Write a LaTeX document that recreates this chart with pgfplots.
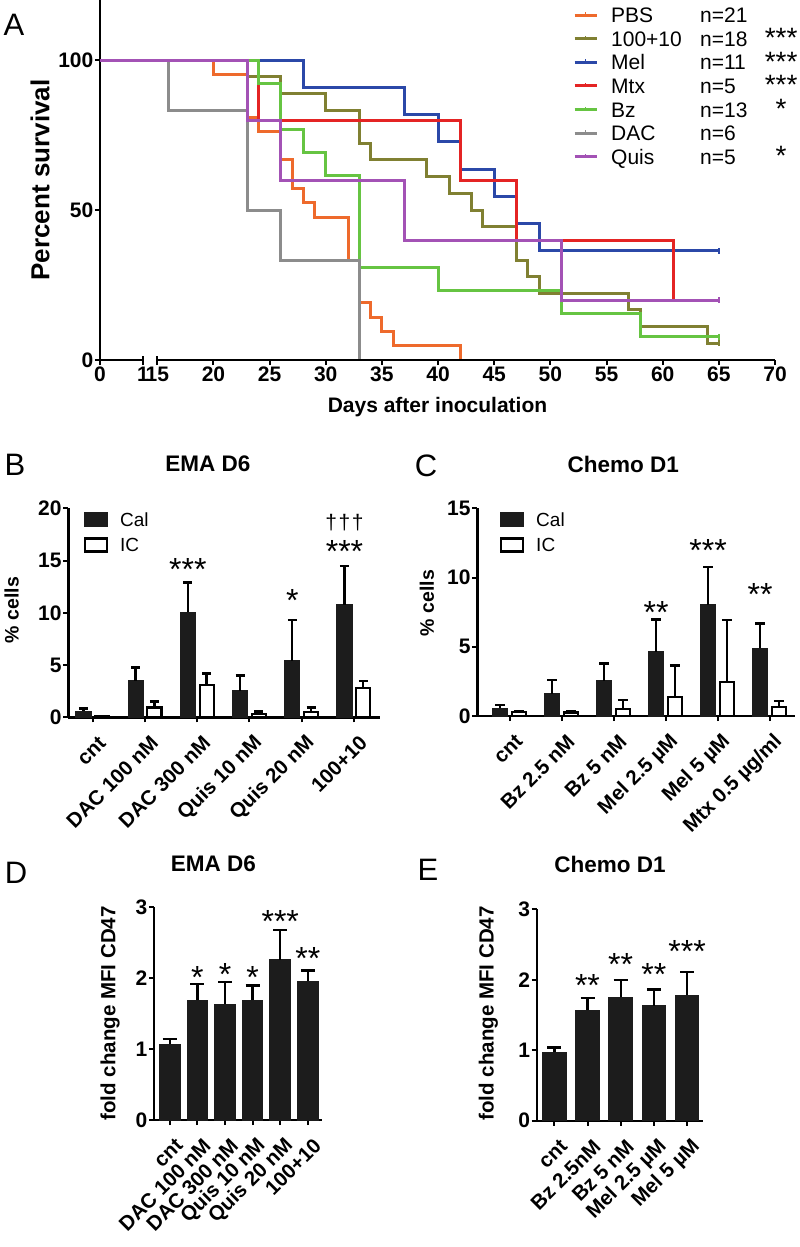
\documentclass[border=0pt]{standalone}
\usepackage{pgfplots}
\pgfplotsset{compat=1.18}
\usepackage{pgfplotstable}
\usepackage{fontspec}
\setmainfont{Liberation Sans}
\newcommand{\fsz}[1]{\fontsize{#1}{#1}\selectfont}
\definecolor{cPBS}{HTML}{EE6A2C}
\definecolor{cComb}{HTML}{808032}
\definecolor{cMel}{HTML}{2B48A8}
\definecolor{cMtx}{HTML}{E42424}
\definecolor{cBz}{HTML}{66C442}
\definecolor{cDAC}{HTML}{8C8C8C}
\definecolor{cQuis}{HTML}{A352B5}
\definecolor{barblk}{HTML}{1C1C1C}

% survival data (x = day; day 0 drawn at 9.9 because of the axis break)
\pgfplotstableread{
x y
9.9 100
20 95.24
23 80.95
24 76.19
26 66.67
27 57.14
28 52.38
29 47.62
32 33.33
33 19.05
34 14.29
35 9.52
36 4.76
42 0
}\tabPBS
\pgfplotstableread{
x y
9.9 100
23 94.44
26 88.89
30 83.33
33 72.22
34 66.67
39 61.11
41 55.56
43 50
44 44.44
47 33.33
48 27.78
49 22.22
57 16.67
58 11.11
64 5.56
65 5.56
}\tabComb
\pgfplotstableread{
x y
9.9 100
28 90.91
37 81.82
40 72.73
42 63.64
45 54.55
47 45.45
49 36.36
65 36.36
}\tabMel
\pgfplotstableread{
x y
9.9 100
24 80
42 60
47 40
61 20
}\tabMtx
\pgfplotstableread{
x y
9.9 100
24 92.31
26 76.92
28 69.23
30 61.54
33 30.77
40 23.08
51 15.38
58 7.69
65 7.69
}\tabBz
\pgfplotstableread{
x y
9.9 100
16 83.33
23 50
26 33.33
33 0
}\tabDAC
\pgfplotstableread{
x y
9.9 100
23 80
26 60
37 40
51 20
65 20
}\tabQuis

\pgfplotstableread{
x cal calerr ic icerr
0 0.60 0.26 0.10 0.0
1 3.48 1.27 0.93 0.57
2 10.05 2.85 3.10 1.10
3 2.55 1.45 0.30 0.25
4 5.42 3.88 0.48 0.45
5 10.75 3.75 2.84 0.66
}\tabB
\pgfplotstableread{
x cal calerr ic icerr
0 0.55 0.25 0.30 0.08
1 1.59 1.01 0.26 0.10
2 2.55 1.25 0.48 0.68
3 4.65 2.33 1.40 2.24
4 8.02 2.72 2.43 4.50
5 4.89 1.80 0.67 0.43
}\tabC
\pgfplotstableread{
x y err
0 1.07 0.07
1 1.69 0.23
2 1.63 0.32
3 1.69 0.21
4 2.26 0.42
5 1.96 0.15
}\tabD
\pgfplotstableread{
x y err
0 0.97 0.07
1 1.57 0.17
2 1.75 0.25
3 1.63 0.23
4 1.78 0.33
}\tabE

\newcommand{\lent}[3]{\makebox[89bp][l]{#1}\makebox[66bp][l]{#2}\makebox[30bp][c]{\fsz{28bp}\raisebox{-1.5bp}{#3}}}
\newcommand{\stars}[1]{\fsz{32bp}#1}

\pgfplotsset{
  gp/.style={scale only axis, clip=false, axis x line*=bottom, axis y line*=left,
    axis line style={line width=2.4bp, black}, tick align=outside, major tick length=5bp,
    tick style={line width=2bp, black}, ticklabel style={font=\bfseries\fsz{21bp}},
    yticklabel style={inner xsep=1.5bp}, xticklabel style={inner ysep=2bp}},
  barpanel/.style={gp, ybar, xtick={0,...,5},
    xticklabel style={xshift=12bp, yshift=-15bp, rotate=45, anchor=east, font=\bfseries\fsz{20.5bp}},
    ylabel style={font=\bfseries\fsz{19.5bp}}, title style={font=\bfseries\fsz{22.5bp}}},
  calbar/.style={fill=barblk, draw=barblk, line width=1bp,
    error bars/.cd, y dir=plus, y explicit, error mark=|,
    error bar style={line width=2.4bp, black},
    error mark options={line width=2.4bp, black, mark size=#1}},
  icbar/.style={fill=white, draw=black, line width=2.2bp,
    error bars/.cd, y dir=plus, y explicit, error mark=|,
    error bar style={line width=2.4bp, black},
    error mark options={line width=2.4bp, black, mark size=#1}},
  barlegend/.style={legend style={at={(axis description cs:#1,0.983)}, anchor=north west,
    draw=none, fill=none, inner sep=0pt, column sep=12bp, row sep=0pt, font=\fsz{19bp},
    nodes={inner sep=0pt, text height=14bp, text depth=11bp, anchor=base west}},
    legend cell align=left,
    legend image code/.code={\draw[##1, line width=2.2bp] (1.1bp,0.3bp) rectangle (22.9bp,13.3bp);}},
}

\begin{document}
\begin{tikzpicture}
\useasboundingbox (0,0) rectangle (800bp,-1247bp);

% panel letters
\node[font=\fsz{31bp}] at (14bp,-25bp) {A};
\node[font=\fsz{31bp}] at (15bp,-465bp) {B};
\node[font=\fsz{31bp}] at (426bp,-466bp) {C};
\node[font=\fsz{31bp}] at (16bp,-873bp) {D};
\node[font=\fsz{31bp}] at (428bp,-870bp) {E};

% ---------------- Panel A ----------------
\begin{axis}[gp, at={(100bp,-360bp)}, anchor=south west, width=675bp, height=360bp,
  xmin=9.9, xmax=70, ymin=0, ymax=120, x axis line style={draw=none},
  xtick={9.9,13.73,15,20,25,30,35,40,45,50,55,60,65,70},
  xticklabels={0,1,15,20,25,30,35,40,45,50,55,60,65,70},
  ytick={0,50,100}, yticklabels={0,50,100},
  xlabel={Days after inoculation},
  xlabel style={font=\bfseries\fsz{21bp}, at={(axis description cs:0.5,-0.1306)}, anchor=center},
  ylabel={Percent survival},
  ylabel style={font=\bfseries\fsz{26bp}, at={(axis description cs:-0.0889,0.5)}, anchor=center},
  legend style={at={(axis description cs:0.7007,0.982)}, anchor=north west, draw=none, fill=none,
    inner sep=0pt, column sep=13bp, row sep=0pt, font=\fsz{21bp},
    nodes={inner sep=0pt, text height=16bp, text depth=7.6bp, anchor=base west}},
  legend cell align=left,
  legend image code/.code={\draw[#1, line width=3bp] (0bp,7.5bp) -- (22bp,7.5bp);
     \draw[#1, line width=1.6bp] (11bp,7.5bp) -- (11bp,10.5bp);},
]
\addplot[cPBS, line width=3bp, const plot] table {\tabPBS};
\addlegendentry{\lent{PBS}{n=21}{}}
\addplot[cComb, line width=3bp, const plot] table {\tabComb};
\addlegendentry{\lent{100+10}{n=18}{***}}
\addplot[cMel, line width=3bp, const plot] table {\tabMel};
\addlegendentry{\lent{Mel}{n=11}{***}}
\addplot[cMtx, line width=3bp, const plot] table {\tabMtx};
\addlegendentry{\lent{Mtx}{n=5}{***}}
\addplot[cBz, line width=3bp, const plot] table {\tabBz};
\addlegendentry{\lent{Bz}{n=13}{*}}
\addplot[cDAC, line width=3bp, const plot] table {\tabDAC};
\addlegendentry{\lent{DAC}{n=6}{}}
\addplot[cQuis, line width=3bp, const plot] table {\tabQuis};
\addlegendentry{\lent{Quis}{n=5}{*}}
% censored marks
\addplot[cComb, only marks, mark=|, mark size=3bp, mark options={line width=2bp}, forget plot] coordinates {(65,5.56)};
\addplot[cMel, only marks, mark=|, mark size=3bp, mark options={line width=2bp}, forget plot] coordinates {(65,36.36)};
\addplot[cBz, only marks, mark=|, mark size=3bp, mark options={line width=2bp}, forget plot] coordinates {(65,7.69)};
\addplot[cQuis, only marks, mark=|, mark size=3bp, mark options={line width=2bp}, forget plot] coordinates {(65,20)};
% broken x axis
\draw[line width=2.4bp] (axis cs:9.9,0) -- (axis cs:13.73,0);
\draw[line width=2.4bp] (axis cs:15,0) -- (axis cs:70,0);
\draw[line width=2bp] ([yshift=4bp]axis cs:13.73,0) -- ([yshift=-5bp]axis cs:13.73,0);
\draw[line width=2bp] ([yshift=4bp]axis cs:15,0) -- ([yshift=-5bp]axis cs:15,0);
\end{axis}

% ---------------- Panel B ----------------
\begin{axis}[barpanel, barlegend=0.0504, at={(68.3bp,-717.3bp)}, anchor=south west,
  width=311.7bp, height=209bp, xmin=-0.47, xmax=5.5, ymin=0, ymax=20,
  ytick={0,5,10,15,20}, yticklabels={0,5,10,15,20},
  xticklabels={cnt,DAC 100 nM,DAC 300 nM,Quis 10 nM,Quis 20 nM,100+10},
  ylabel={\% cells}, ylabel style={at={(axis description cs:-0.1816,0.513)}, anchor=center},
  title={EMA D6}, title style={at={(axis description cs:0.448,1.183)}, anchor=center},
]
\addplot[bar width=0.29, bar shift=-0.18, calbar=4.5bp] table[x=x, y=cal, y error=calerr] {\tabB};
\addlegendentry{Cal}
\addplot[bar width=0.27, bar shift=0.18, icbar=4.5bp] table[x=x, y=ic, y error=icerr] {\tabB};
\addlegendentry{IC}
\node[anchor=base, yshift=-18.5bp, inner sep=0pt] at (axis cs:1.82,14.9) {\stars{***}};
\node[anchor=base, yshift=-18.5bp, inner sep=0pt] at (axis cs:3.82,11.9) {\stars{*}};
\node[anchor=base, yshift=-18.5bp, inner sep=0pt] at (axis cs:4.82,16.6) {\stars{***}};
\node[anchor=center, inner sep=0pt] at (axis cs:4.82,18.6) {\fsz{21bp}†\kern1.5bp†\kern1.5bp†};
\end{axis}

% ---------------- Panel C ----------------
\begin{axis}[barpanel, barlegend=0.0715, at={(477.3bp,-716bp)}, anchor=south west,
  width=317.7bp, height=207.7bp, xmin=-0.62, xmax=5.49, ymin=0, ymax=15,
  ytick={0,5,10,15}, yticklabels={0,5,10,15},
  xticklabels={cnt,Bz 2.5 nM,Bz 5 nM,Mel 2.5 µM,Mel 5 µM,Mtx 0.5 µg/ml},
  ylabel={\% cells}, ylabel style={at={(axis description cs:-0.159,0.544)}, anchor=center},
  title={Chemo D1}, title style={at={(axis description cs:0.4596,1.184)}, anchor=center},
]
\addplot[bar width=0.29, bar shift=-0.18, calbar=5bp] table[x=x, y=cal, y error=calerr] {\tabC};
\addlegendentry{Cal}
\addplot[bar width=0.27, bar shift=0.18, icbar=5bp] table[x=x, y=ic, y error=icerr] {\tabC};
\addlegendentry{IC}
\node[anchor=base, yshift=-18.5bp, inner sep=0pt] at (axis cs:2.82,8.0) {\stars{**}};
\node[anchor=base, yshift=-18.5bp, inner sep=0pt] at (axis cs:3.82,12.5) {\stars{***}};
\node[anchor=base, yshift=-18.5bp, inner sep=0pt] at (axis cs:4.82,9.35) {\stars{**}};
\end{axis}

% ---------------- Panel D ----------------
\begin{axis}[barpanel, at={(154bp,-1120bp)}, anchor=south west,
  width=167.7bp, height=212.7bp, xmin=-0.57, xmax=5.5, ymin=0, ymax=3,
  ytick={0,1,2,3}, yticklabels={0,1,2,3},
  xticklabels={cnt,DAC 100 nM,DAC 300 nM,Quis 10 nM,Quis 20 nM,100+10},
  ylabel={fold change MFI CD47},
  ylabel style={font=\bfseries\fsz{20.5bp}, at={(axis description cs:-0.2624,0.5016)}, anchor=center},
  title={EMA D6}, title style={at={(axis description cs:0.3536,1.175)}, anchor=center},
]
\addplot[bar width=0.75, bar shift=0, calbar=7bp] table[x=x, y=y, y error=err] {\tabD};
\node[anchor=base, yshift=-18.5bp, inner sep=0pt] at (axis cs:1,2.12) {\stars{*}};
\node[anchor=base, yshift=-18.5bp, inner sep=0pt] at (axis cs:2,2.16) {\stars{*}};
\node[anchor=base, yshift=-18.5bp, inner sep=0pt] at (axis cs:3,2.12) {\stars{*}};
\node[anchor=base, yshift=-18.5bp, inner sep=0pt] at (axis cs:4,2.91) {\stars{***}};
\node[anchor=base, yshift=-18.5bp, inner sep=0pt] at (axis cs:5,2.39) {\stars{**}};
\end{axis}

% ---------------- Panel E ----------------
\begin{axis}[barpanel, at={(536.7bp,-1120.7bp)}, anchor=south west,
  width=166bp, height=211.4bp, xmin=-0.53, xmax=4.47, ymin=0, ymax=3,
  xtick={0,...,4},
  ytick={0,1,2,3}, yticklabels={0,1,2,3},
  xticklabels={cnt,Bz 2.5nM,Bz 5 nM,Mel 2.5 µM,Mel 5 µM},
  ylabel={fold change MFI CD47},
  ylabel style={font=\bfseries\fsz{20.5bp}, at={(axis description cs:-0.2916,0.508)}, anchor=center},
  title={Chemo D1}, title style={at={(axis description cs:0.4416,1.186)}, anchor=center},
]
\addplot[bar width=0.71, bar shift=0, calbar=7bp] table[x=x, y=y, y error=err] {\tabE};
\node[anchor=base, yshift=-18.5bp, inner sep=0pt] at (axis cs:1,2.03) {\stars{**}};
\node[anchor=base, yshift=-18.5bp, inner sep=0pt] at (axis cs:2,2.33) {\stars{**}};
\node[anchor=base, yshift=-18.5bp, inner sep=0pt] at (axis cs:3,2.18) {\stars{**}};
\node[anchor=base, yshift=-18.5bp, inner sep=0pt] at (axis cs:4,2.51) {\stars{***}};
\end{axis}
\end{tikzpicture}
\end{document}
